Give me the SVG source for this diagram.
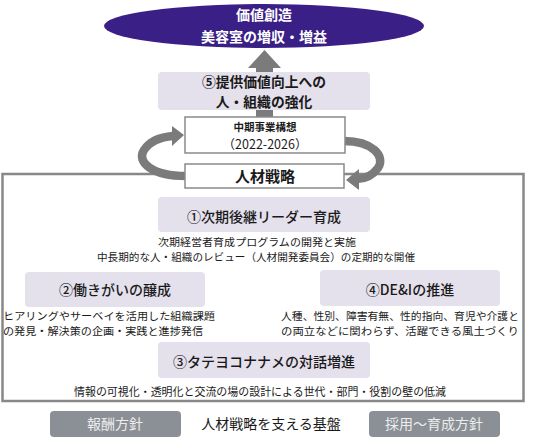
<svg xmlns="http://www.w3.org/2000/svg" width="533" height="441" viewBox="0 0 533 441">
<defs>
<style>
text{font-family:"Noto Sans CJK JP","Noto Sans",sans-serif;fill:#1a1a1a}
.w{fill:#ffffff}
.t{font-size:14px;text-anchor:middle}
.m{font-weight:500}
.b{font-weight:bold}
.d{font-size:11px}
.d2{font-size:10.5px}
.c{text-anchor:middle}
.lav{fill:#E4E0EC}
.wb{fill:#ffffff;stroke:#8a8a8a;stroke-width:1.5}
.gb{fill:#8B9097}
.gt{fill:#EDEDED;font-size:14px;text-anchor:middle}
.arr{fill:none;stroke:#7b7b7b;stroke-width:8.5}
.ah{fill:#7b7b7b}
</style>
</defs>
<rect x="2.5" y="174" width="521" height="227" fill="none" stroke="#888888" stroke-width="2.5"/>
<g id="connectors">
<polygon class="ah" points="248,68 264.5,50 281,68"/>
<rect class="ah" x="256" y="67" width="17" height="52"/>
<path class="arr" d="M186,176 C152,176 136,162 144,150 C150,141 160,137 173,136"/>
<polygon class="ah" points="172,126 184,135 172,146"/>
<path class="arr" d="M344,141 C372,141 386,156 378,168 C372,176 364,179 357,179"/>
<polygon class="ah" points="359,169 346,180 359,190"/>
</g>
<g id="goal">
<ellipse cx="264" cy="26" rx="160" ry="22" fill="#3A1F86"/>
<text class="t w b" x="264" y="20">価値創造</text>
<text class="t w b" x="264" y="42">美容室の増収・増益</text>
</g>
<g id="n5">
<rect class="lav" x="158" y="72" width="212" height="38" rx="4"/>
<text class="t b" x="264" y="87" style="font-size:13.8px">⑤提供価値向上への</text>
<text class="t b" x="264" y="107" style="font-size:13.8px">人・組織の強化</text>
</g>
<g id="plan">
<rect class="wb" x="185" y="117" width="160" height="36"/>
<text class="c b" x="265" y="130.5" style="font-size:10.5px">中期事業構想</text>
<text class="c" x="265" y="148.5" style="font-size:12.5px">（2022-2026）</text>
</g>
<g id="hr">
<rect class="wb" x="185" y="164" width="159" height="24"/>
<text class="t b" x="265" y="182" style="font-size:15px">人材戦略</text>
</g>
<g id="n1">
<rect class="lav" x="158" y="197" width="212" height="35" rx="4"/>
<text class="t m" x="264" y="222">①次期後継リーダー育成</text>
<text class="d2 c" x="257" y="246" textLength="198" lengthAdjust="spacingAndGlyphs">次期経営者育成プログラムの開発と実施</text>
<text class="d2 c" x="256" y="261" textLength="318" lengthAdjust="spacingAndGlyphs">中長期的な人・組織のレビュー（人材開発委員会）の定期的な開催</text>
</g>
<g id="n2">
<rect class="lav" x="25" y="272" width="180" height="35" rx="4"/>
<text class="t m" x="115" y="295">②働きがいの醸成</text>
<text class="d2" x="3" y="320" textLength="212" lengthAdjust="spacingAndGlyphs">ヒアリングやサーベイを活用した組織課題</text>
<text class="d2" x="3" y="335" textLength="200" lengthAdjust="spacingAndGlyphs">の発見・解決策の企画・実践と進捗発信</text>
</g>
<g id="n4">
<rect class="lav" x="320" y="270" width="180" height="36" rx="4"/>
<text class="t m" x="410" y="295">④DE&amp;Iの推進</text>
<text class="d2" x="281" y="320" textLength="238" lengthAdjust="spacingAndGlyphs">人種、性別、障害有無、性的指向、育児や介護と</text>
<text class="d2" x="281" y="335" textLength="238" lengthAdjust="spacingAndGlyphs">の両立などに関わらず、活躍できる風土づくり</text>
</g>
<g id="n3">
<rect class="lav" x="158" y="342" width="212" height="36" rx="4"/>
<text class="t m" x="264" y="367">③タテヨコナナメの対話増進</text>
<text class="d c" x="260" y="396" textLength="372" lengthAdjust="spacingAndGlyphs">情報の可視化・透明化と交流の場の設計による世代・部門・役割の壁の低減</text>
</g>
<g id="base">
<rect class="gb" x="50" y="411" width="131" height="26" rx="4"/>
<text class="gt" x="115" y="429">報酬方針</text>
<text class="t" x="271" y="429">人材戦略を支える基盤</text>
<rect class="gb" x="369" y="411" width="131" height="26" rx="4"/>
<text class="gt" x="434" y="429">採用～育成方針</text>
</g>
</svg>
